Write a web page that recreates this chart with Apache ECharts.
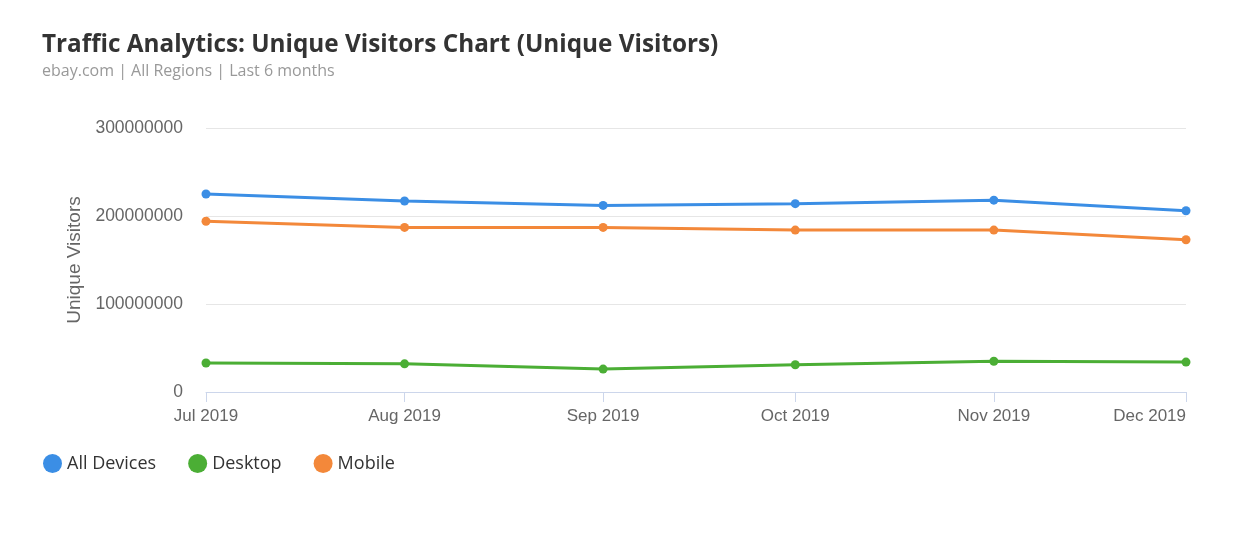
<!DOCTYPE html>
<html><head><meta charset="utf-8">
<style>html,body{margin:0;padding:0;background:#fff;}#c{width:1238px;height:546px;}</style>
<script src="https://cdn.jsdelivr.net/npm/echarts@6/dist/echarts.min.js"></script>
</head><body><div id="c"></div>
<script>
const months = ['2019-07-01','2019-08-01','2019-09-01','2019-10-01','2019-11-01','2019-12-01'];
const allDevices = [225000000, 217000000, 212000000, 214000000, 218000000, 206000000];
const desktop = [33000000, 32000000, 26000000, 31000000, 35000000, 34000000];
const mobile = [194000000, 187000000, 187000000, 184000000, 184000000, 173000000];
const yTicks = [0, 100000000, 200000000, 300000000];
const monthNames = ['Jan','Feb','Mar','Apr','May','Jun','Jul','Aug','Sep','Oct','Nov','Dec'];

const chart = echarts.init(document.getElementById('c'));
function pts(vals){ return months.map((m,i)=>[m, vals[i]]); }
function mk(name, vals, color){
  return {name, type:'line', data:pts(vals), symbol:'circle', symbolSize:9,
    lineStyle:{width:3,color}, itemStyle:{color}, color};
}
chart.setOption({
  animation:false,
  title:{text:'Traffic Analytics: Unique Visitors Chart (Unique Visitors)',
    subtext:'ebay.com | All Regions | Last 6 months',
    left:37, top:28, itemGap:6,
    textStyle:{fontFamily:'Open Sans',fontWeight:'bold',fontSize:24.3,color:'#333'},
    subtextStyle:{fontFamily:'Open Sans',fontSize:16,color:'#999'}},
  grid:{left:206,right:52,top:128,bottom:154},
  legend:{left:38, top:449, icon:'circle', itemWidth:19, itemHeight:19, itemGap:32,
    textStyle:{fontFamily:'Open Sans',fontSize:18,color:'#333'},
    data:['All Devices','Desktop','Mobile']},
  xAxis:{type:'time', min:months[0], max:months[months.length-1],
    splitNumber:5,
    axisLine:{lineStyle:{color:'#ccd6eb',width:1}},
    axisTick:{show:true,length:10,lineStyle:{color:'#ccd6eb'}},
    splitLine:{show:false},
    axisLabel:{color:'#666',fontFamily:'Liberation Sans',fontSize:17,margin:16,
      showMaxLabel:true, showMinLabel:true, alignMaxLabel:'right', hideOverlap:false,
      formatter:function(v){const d=new Date(v);return monthNames[d.getMonth()]+' '+d.getFullYear();}}},
  yAxis:{type:'value', min:yTicks[0], max:yTicks[yTicks.length-1], interval:100000000,
    name:'Unique Visitors', nameLocation:'middle', nameGap:122, nameRotate:90,
    nameTextStyle:{color:'#666',fontFamily:'Liberation Sans',fontSize:19},
    axisLine:{show:false}, axisTick:{show:false},
    splitLine:{lineStyle:{color:'#e6e6e6',width:1}},
    axisLabel:{color:'#666',fontFamily:'Liberation Sans',fontSize:17.5,margin:23,
      formatter:function(v){return String(v);}}},
  series:[mk('All Devices',allDevices,'#3b8ee5'), mk('Desktop',desktop,'#4bae35'), mk('Mobile',mobile,'#f3883a')]
});
</script></body></html>
